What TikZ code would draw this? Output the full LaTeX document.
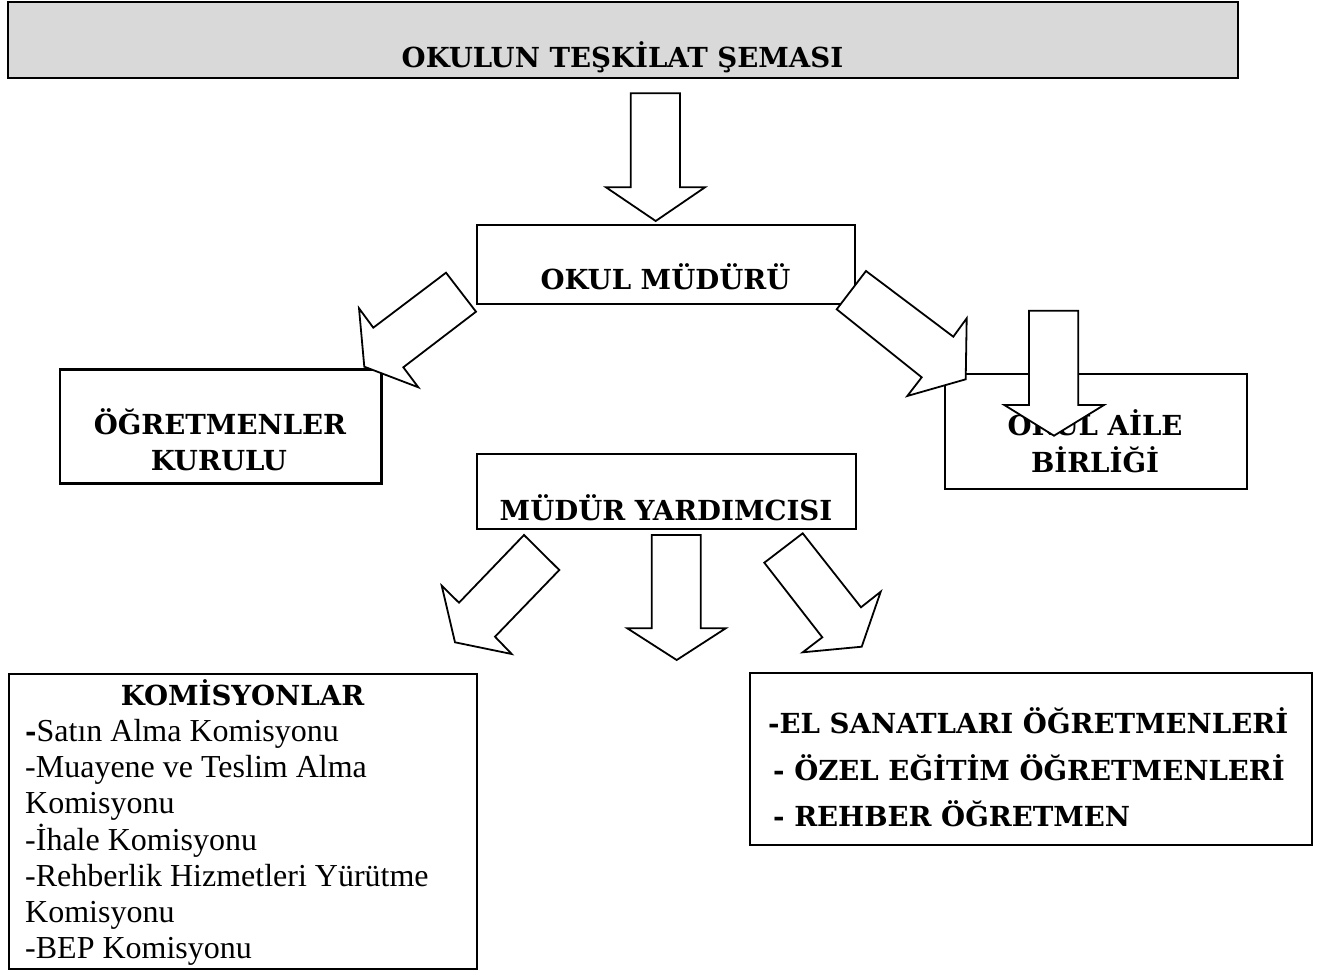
\documentclass[tikz,border=0pt]{standalone}
\usepackage{fontspec}
\setmainfont{Liberation Serif}
\newfontfamily\dvs{DejaVu Serif}
\begin{document}
\begin{tikzpicture}[x=1pt,y=-1pt,
  box/.style={draw, line width=2.4pt, fill=white, inner sep=0pt},
  blk/.style={draw, line width=1.8pt, fill=white, line join=miter},
  big/.style={font=\dvs\bfseries\fontsize{27.6}{34}\selectfont, inner sep=0pt},
  reg/.style={font=\fontsize{32}{38}\selectfont, inner sep=0pt}]
\useasboundingbox (0,0) rectangle (1330,972);
% boxes
\node[box, fill=black!15, minimum width=1230pt, minimum height=76pt] (title) at (623,40) {};
\node[box, minimum width=378pt, minimum height=79pt] (mudur) at (666,264.5) {};
\node[box, minimum width=321.5pt, minimum height=114pt] (ogret) at (220.75,426.5) {};
\node[box, minimum width=302pt, minimum height=115pt] (aile) at (1096,431.5) {};
\node[box, minimum width=379pt, minimum height=75pt] (yard) at (666.5,491.5) {};
\node[box, minimum width=468pt, minimum height=295pt] (komis) at (243,821.5) {};
\node[box, minimum width=562pt, minimum height=172pt] (elsan) at (1031,759) {};
% texts
\node[big, anchor=base] (tt) at (622.5,67) {OKULUN TEŞKİLAT ŞEMASI};
\node[big, anchor=base] (mt) at (665.5,289) {OKUL MÜDÜRÜ};
\node[big, anchor=base] (ot1) at (220,434.5) {ÖĞRETMENLER};
\node[big, anchor=base] (ot2) at (219,470) {KURULU};
\node[big, anchor=base] (at1) at (1095,435.7) {OKUL AİLE};
\node[big, anchor=base] (at2) at (1095,472.7) {BİRLİĞİ};
\node[big, anchor=base] (yt) at (666,520) {MÜDÜR YARDIMCISI};
\node[big, anchor=base] (kh) at (242.5,705) {KOMİSYONLAR};
\node[reg, anchor=base west] (k1) at (25,741.7) {{\dvs\bfseries\fontsize{27.6}{34}\selectfont -}Satın Alma Komisyonu};
\node[reg, anchor=base west] (k2) at (25,777.8) {-Muayene ve Teslim Alma};
\node[reg, anchor=base west] (k3) at (25,813.9) {Komisyonu};
\node[reg, anchor=base west] (k4) at (25,850) {-İhale Komisyonu};
\node[reg, anchor=base west] (k5) at (25,886.1) {-Rehberlik Hizmetleri Yürütme};
\node[reg, anchor=base west] (k6) at (25,922.2) {Komisyonu};
\node[reg, anchor=base west] (k7) at (25,958.3) {-BEP Komisyonu};
\node[big, anchor=base west] (e1) at (768,733) {-EL SANATLARI ÖĞRETMENLERİ};
\node[big, anchor=base west] (e2) at (773,780) {- ÖZEL EĞİTİM ÖĞRETMENLERİ};
\node[big, anchor=base west] (e3) at (773,826) {- REHBER ÖĞRETMEN};
% block arrows
\draw[blk] (630.7,93.3) -- (680,93.3) -- (680,187.3) -- (705,187.3) -- (655.7,221) -- (606,187.3) -- (630.7,187.3) -- cycle;
\draw[blk] (446,272.7) -- (476,311.7) -- (403.3,367.3) -- (418.3,387.3) -- (364.3,366.7) -- (359,308.3) -- (373.3,327.7) -- cycle;
\draw[blk] (866,271) -- (953.3,336.7) -- (966.7,318.3) -- (965.7,379.3) -- (907.3,396) -- (921.7,377.3) -- (836.7,309.3) -- cycle;
\draw[blk] (1029,310.7) -- (1078.3,310.7) -- (1078.3,405) -- (1104,405) -- (1054,435.7) -- (1004.3,405) -- (1029,405) -- cycle;
\draw[blk] (524,535) -- (559.3,570) -- (495,636.7) -- (511.7,654) -- (455,642.3) -- (441.7,585.7) -- (459,602.7) -- cycle;
\draw[blk] (651.7,535) -- (700.7,535) -- (700.7,628.3) -- (725.7,628.3) -- (676.7,660) -- (627.3,628.3) -- (651.7,628.3) -- cycle;
\draw[blk] (802.7,533.3) -- (861,607.3) -- (880.7,591.7) -- (861.7,646.7) -- (802.7,652.3) -- (822.3,637.3) -- (764.3,562.7) -- cycle;
\end{tikzpicture}
\end{document}
